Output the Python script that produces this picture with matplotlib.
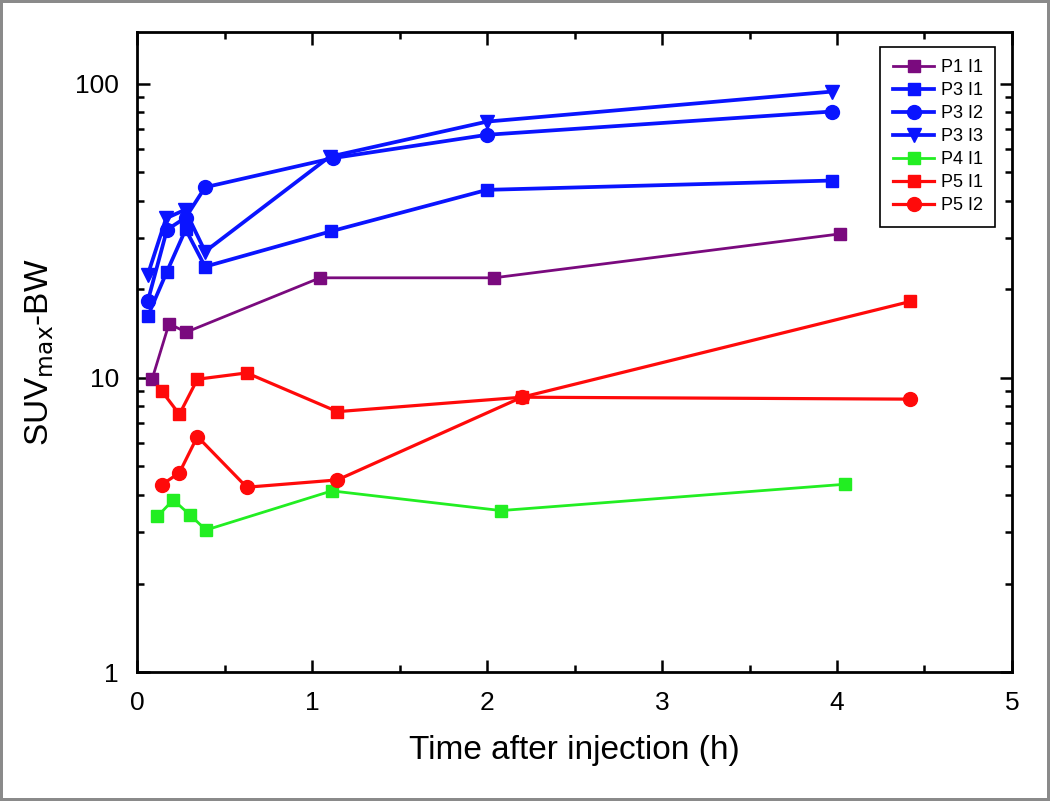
import matplotlib
matplotlib.use("Agg")
import matplotlib.pyplot as plt
from matplotlib.ticker import LogLocator, NullFormatter, FixedLocator, MultipleLocator

plt.rcParams['font.family'] = ['Liberation Sans', 'DejaVu Sans']

# Time after injection (h) and SUVmax-BW per lesion
p1_i1_t = [0.086, 0.183, 0.28, 1.046, 2.04, 4.02]
p1_i1_v = [9.9, 15.3, 14.3, 21.9, 21.9, 30.9]

p3_i1_t = [0.061, 0.171, 0.278, 0.389, 1.107, 2.0, 3.97]
p3_i1_v = [16.2, 23.0, 32.0, 23.9, 31.5, 43.6, 46.9]

p3_i2_t = [0.061, 0.171, 0.278, 0.389, 1.12, 2.0, 3.97]
p3_i2_v = [18.2, 31.9, 35.1, 44.5, 55.9, 67.1, 80.5]

p3_i3_t = [0.061, 0.166, 0.274, 0.389, 1.10, 2.0, 3.97]
p3_i3_v = [22.4, 34.9, 37.3, 26.9, 56.5, 74.4, 94.1]

p4_i1_t = [0.116, 0.207, 0.303, 0.394, 1.113, 2.08, 4.046]
p4_i1_v = [3.38, 3.85, 3.42, 3.04, 4.13, 3.54, 4.35]

p5_i1_t = [0.141, 0.242, 0.345, 0.627, 1.145, 2.2, 4.42]
p5_i1_v = [9.03, 7.52, 9.90, 10.4, 7.68, 8.6, 18.2]

p5_i2_t = [0.141, 0.242, 0.345, 0.627, 1.145, 2.2, 4.42]
p5_i2_v = [4.33, 4.76, 6.32, 4.25, 4.50, 8.6, 8.47]

series = [
    ("P1 I1", p1_i1_t, p1_i1_v, "#7a0a7e", "s", 2.0, 9),
    ("P3 I1", p3_i1_t, p3_i1_v, "#0a14ff", "s", 2.7, 9),
    ("P3 I2", p3_i2_t, p3_i2_v, "#0a14ff", "o", 2.7, 10),
    ("P3 I3", p3_i3_t, p3_i3_v, "#0a14ff", "v", 2.7, 10),
    ("P4 I1", p4_i1_t, p4_i1_v, "#22ee22", "s", 2.0, 8),
    ("P5 I1", p5_i1_t, p5_i1_v, "#ff0a0a", "s", 2.3, 9),
    ("P5 I2", p5_i2_t, p5_i2_v, "#ff0a0a", "o", 2.3, 10),
]

fig = plt.figure(figsize=(10.5, 8.01), dpi=100)
fig.patch.set_edgecolor("#8a8a8a")
fig.patch.set_linewidth(4)
ax = fig.add_axes([0.1305, 0.161, 0.8333, 0.799])

for name, t, v, col, mk, lw, ms in series:
    ax.plot(t, v, color=col, marker=mk, markersize=ms, linewidth=lw, label=name)

ax.set_yscale("log")
ax.set_xlim(0, 5)
ax.set_ylim(1, 150)
ax.xaxis.set_major_locator(MultipleLocator(1))
ax.xaxis.set_minor_locator(MultipleLocator(0.5))
ax.yaxis.set_major_locator(FixedLocator([1, 10, 100]))
ax.yaxis.set_major_formatter(plt.FuncFormatter(lambda y, p: "%d" % y))
ax.yaxis.set_minor_locator(LogLocator(base=10, subs=range(2, 10)))
ax.yaxis.set_minor_formatter(NullFormatter())

for s in ax.spines.values():
    s.set_linewidth(2)
ax.tick_params(which="both", direction="in", top=True, right=True, width=1.8, labelsize=19)
ax.tick_params(which="major", length=9)
ax.tick_params(axis="x", which="major", pad=14)
ax.tick_params(axis="y", which="major", pad=13)
ax.tick_params(which="minor", length=5)

ax.set_xlabel("Time after injection (h)", fontsize=24, labelpad=14)
ax.set_ylabel(r"SUV$_{\mathrm{max}}$-BW", fontsize=24, labelpad=14)

leg = ax.legend(loc="upper right", bbox_to_anchor=(0.981, 0.977), borderaxespad=0,
                fontsize=13, fancybox=False, edgecolor="black", framealpha=1,
                handlelength=2.3, handletextpad=0.35, labelspacing=0.33, borderpad=0.7)
leg.get_frame().set_linewidth(1.2)

plt.savefig("out.png", dpi=100)
